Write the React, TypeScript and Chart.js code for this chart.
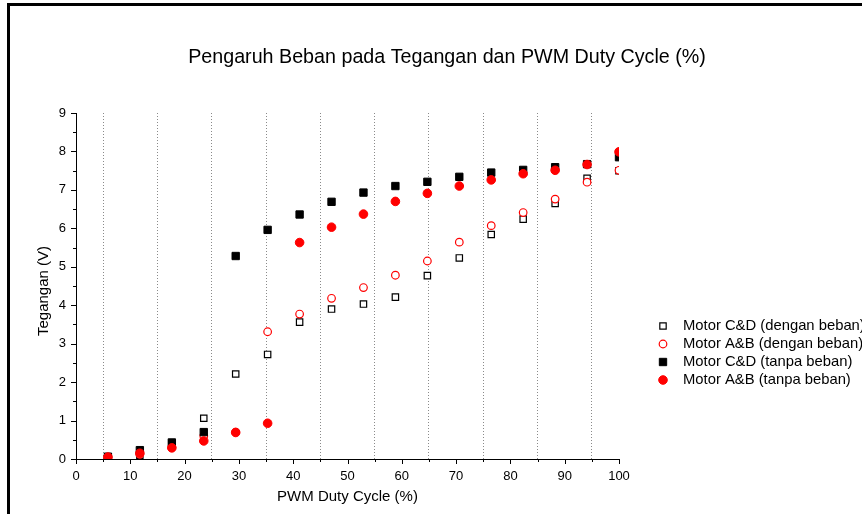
import React, { useEffect, useRef } from 'react';
import { Chart, registerables } from 'chart.js';

Chart.register(...registerables);

// ---- data ----
const dutyCycle = [5.88, 11.76, 17.65, 23.53, 29.41, 35.29, 41.18, 47.06, 52.94, 58.82, 64.71, 70.59, 76.47, 82.35, 88.24, 94.12, 100];
const cdWithLoad = [0.05, 0.1, 0.4, 1.06, 2.21, 2.72, 3.56, 3.9, 4.03, 4.21, 4.77, 5.23, 5.84, 6.24, 6.65, 7.3, 7.5];
const abWithLoad = [0.05, 0.12, 0.3, 0.6, 0.7, 3.31, 3.77, 4.18, 4.46, 4.78, 5.15, 5.64, 6.07, 6.41, 6.76, 7.2, 7.51];
const cdNoLoad = [0.06, 0.23, 0.43, 0.7, 5.28, 5.96, 6.36, 6.69, 6.93, 7.1, 7.21, 7.34, 7.45, 7.52, 7.59, 7.67, 7.85];
const abNoLoad = [0.05, 0.15, 0.29, 0.47, 0.69, 0.93, 5.63, 6.03, 6.37, 6.7, 6.91, 7.1, 7.26, 7.42, 7.51, 7.66, 7.99];

const seriesLabels = [
  'Motor C&D (dengan beban)',
  'Motor A&B (dengan beban)',
  'Motor C&D (tanpa beban)',
  'Motor A&B (tanpa beban)',
];
const chartTitle = 'Pengaruh Beban pada Tegangan dan PWM Duty Cycle (%)';
const xTitle = 'PWM Duty Cycle (%)';
const yTitle = 'Tegangan (V)';
const xMin = 0, xMax = 100, xMajor = 10, xMinor = 5;
const yMin = 0, yMax = 9, yMajor = 1, yMinor = 0.5;

const FONT = '"Liberation Sans", Arial, Helvetica, sans-serif';

const toPoints = (ys: number[]) => dutyCycle.map((x, i) => ({ x, y: ys[i] }));

function drawMarker(ctx: CanvasRenderingContext2D, style: string, x: number, y: number, r: number, fill: string, stroke: string, bw: number) {
  ctx.save();
  ctx.beginPath();
  if (style === 'rect') {
    const s = Math.SQRT1_2 * r;
    ctx.rect(x - s, y - s, 2 * s, 2 * s);
  } else {
    ctx.arc(x, y, r, 0, Math.PI * 2);
  }
  ctx.fillStyle = fill;
  ctx.fill();
  ctx.lineWidth = bw;
  ctx.strokeStyle = stroke;
  ctx.stroke();
  ctx.restore();
}

const decorPlugin = {
  id: 'decor',
  beforeDraw(chart: any) {
    const ctx = chart.ctx as CanvasRenderingContext2D;
    ctx.save();
    ctx.fillStyle = '#fff';
    ctx.fillRect(0, 0, chart.width, chart.height);
    ctx.fillStyle = '#000';
    // outer frame (top and left edges)
    ctx.fillRect(7, 3, chart.width - 7, 3);
    ctx.fillRect(7, 3, 3, chart.height - 3);
    ctx.restore();
  },
  afterDraw(chart: any) {
    const ctx = chart.ctx as CanvasRenderingContext2D;
    const area = chart.chartArea;
    const xs = chart.scales.x;
    const ys = chart.scales.y;
    ctx.save();
    ctx.strokeStyle = '#000';
    ctx.lineWidth = 1;
    // x tick marks
    for (let v = xMin; v <= xMax + 1e-9; v += xMinor) {
      const px = Math.round(xs.getPixelForValue(v)) + 0.5;
      const len = Math.abs(v % xMajor) < 1e-9 ? 5 : 3;
      ctx.beginPath();
      ctx.moveTo(px, area.bottom);
      ctx.lineTo(px, area.bottom + len);
      ctx.stroke();
    }
    // y tick marks
    for (let v = yMin; v <= yMax + 1e-9; v += yMinor) {
      const py = Math.round(ys.getPixelForValue(v)) + 0.5;
      const len = Math.abs(v % yMajor) < 1e-9 ? 5 : 3;
      ctx.beginPath();
      ctx.moveTo(area.left, py);
      ctx.lineTo(area.left - len, py);
      ctx.stroke();
    }
    ctx.fillStyle = '#000';
    // chart title
    ctx.font = `19.7px ${FONT}`;
    ctx.textAlign = 'center';
    ctx.textBaseline = 'middle';
    ctx.fillText(chartTitle, 447, 58);
    // x axis title
    ctx.font = `15px ${FONT}`;
    ctx.fillText(xTitle, (area.left + area.right) / 2, 497);
    // y axis title
    ctx.save();
    ctx.translate(44, (area.top + area.bottom) / 2 + 5);
    ctx.rotate(-Math.PI / 2);
    ctx.fillText(yTitle, 0, 0);
    ctx.restore();
    // legend
    ctx.font = `14.8px ${FONT}`;
    ctx.textAlign = 'left';
    const ds = chart.data.datasets;
    ds.forEach((d: any, i: number) => {
      const y = 326 + i * 18;
      drawMarker(ctx, d.pointStyle, 663, y, d.pointRadius, d.backgroundColor, d.borderColor, d.borderWidth);
      ctx.fillStyle = '#000';
      ctx.fillText(d.label, 683, y);
    });
    ctx.restore();
  },
};

export default function App() {
  const ref = useRef<HTMLCanvasElement | null>(null);
  useEffect(() => {
    if (!ref.current) return;
    const chart = new Chart(ref.current, {
      type: 'scatter',
      data: {
        datasets: [
          { label: seriesLabels[0], data: toPoints(cdWithLoad), pointStyle: 'rect', pointRadius: 4.5, backgroundColor: '#ffffff', borderColor: '#000000', borderWidth: 1.2, order: 3, clip: 0 },
          { label: seriesLabels[1], data: toPoints(abWithLoad), pointStyle: 'circle', pointRadius: 3.8, backgroundColor: '#ffffff', borderColor: '#ff0000', borderWidth: 1.2, order: 2, clip: 0 },
          { label: seriesLabels[2], data: toPoints(cdNoLoad), pointStyle: 'rect', pointRadius: 5.2, backgroundColor: '#000000', borderColor: '#000000', borderWidth: 1, order: 1, clip: 0 },
          { label: seriesLabels[3], data: toPoints(abNoLoad), pointStyle: 'circle', pointRadius: 4.3, backgroundColor: '#ff0000', borderColor: '#ff0000', borderWidth: 1, order: 0, clip: 0 },
        ] as any,
      },
      options: {
        responsive: false,
        animation: false,
        events: [],
        devicePixelRatio: 1,
        layout: { padding: { left: 0, top: 113, right: 243, bottom: 0 } },
        plugins: { legend: { display: false }, tooltip: { enabled: false }, title: { display: false } },
        scales: {
          x: {
            type: 'linear',
            min: xMin,
            max: xMax,
            afterFit: (s: any) => { s.height = 55; },
            ticks: {
              stepSize: xMinor,
              autoSkip: false,
              maxRotation: 0,
              padding: 10,
              color: '#000',
              font: { family: FONT, size: 13 },
              callback: (v: any) => (Math.abs(Number(v) % xMajor) < 1e-9 ? String(v) : ''),
            },
            grid: {
              drawTicks: false,
              lineWidth: 1,
              color: (c: any) => (c.tick && Math.abs(c.tick.value % xMajor) > 1e-9 ? '#8a8a8a' : 'rgba(0,0,0,0)'),
            },
            border: { display: true, color: '#000', width: 1, dash: [1, 2] },
          },
          y: {
            type: 'linear',
            min: yMin,
            max: yMax,
            afterFit: (s: any) => { s.width = 76; },
            ticks: {
              stepSize: yMajor,
              padding: 10,
              color: '#000',
              font: { family: FONT, size: 13 },
            },
            grid: { drawTicks: false, drawOnChartArea: false },
            border: { display: true, color: '#000', width: 1 },
          },
        },
      } as any,
      plugins: [decorPlugin],
    });
    return () => chart.destroy();
  }, []);
  return (
    <div style={{ position: 'fixed', left: 0, top: 0, width: 862, height: 514, overflow: 'hidden', background: '#fff' }}>
      <canvas ref={ref} width={862} height={514} style={{ display: 'block', width: 862, height: 514 }} />
    </div>
  );
}
